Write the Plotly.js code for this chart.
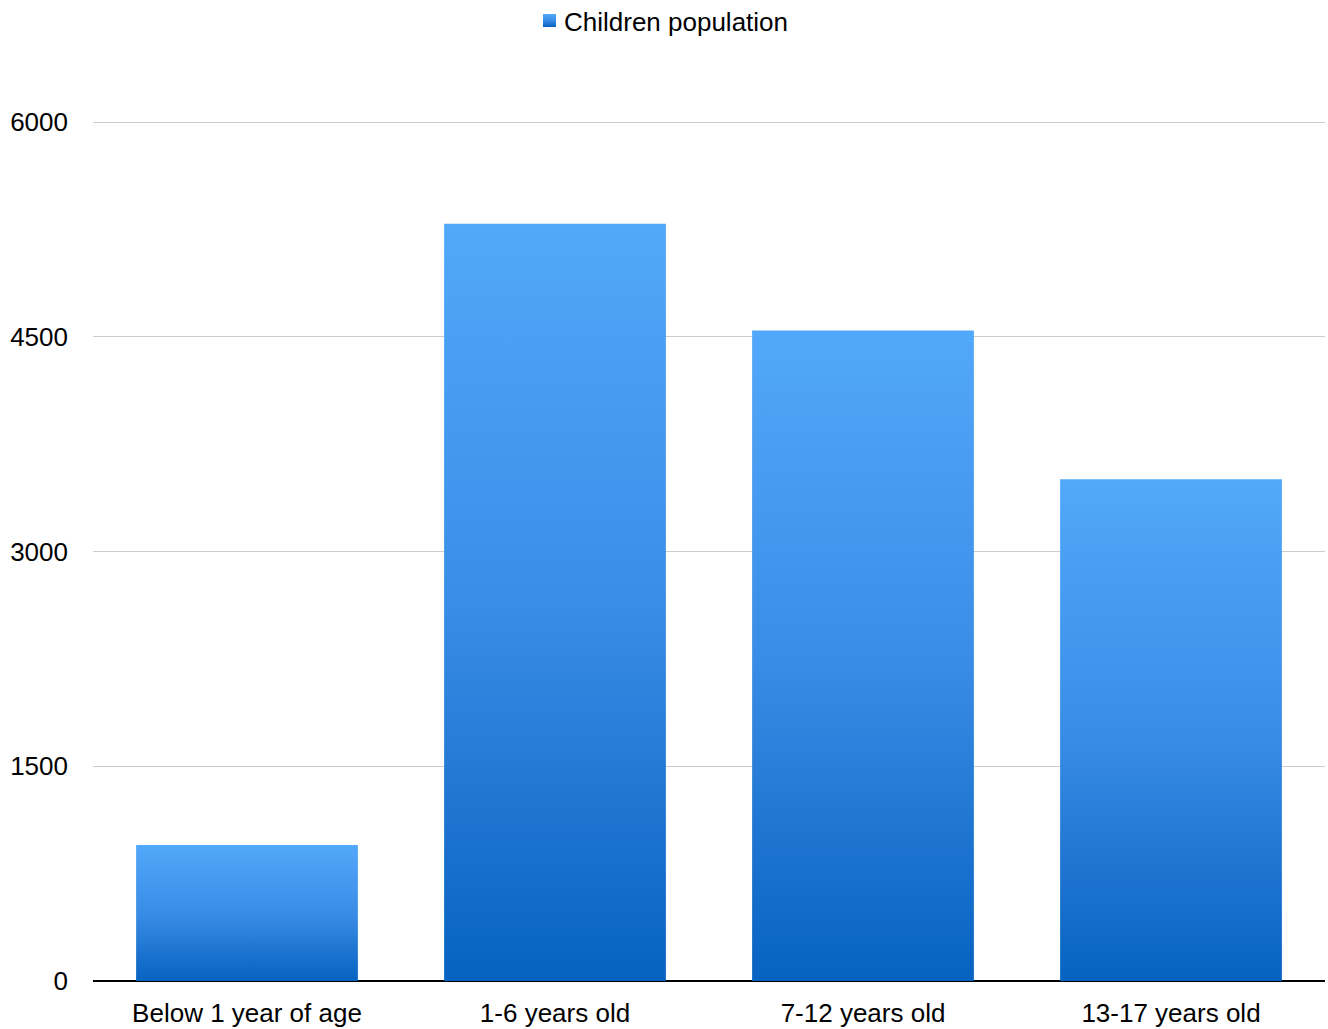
<!DOCTYPE html>
<html>
<head>
<meta charset="utf-8">
<script src="https://cdn.plot.ly/plotly-3.0.1.min.js"></script>
<style>
html,body{margin:0;padding:0;background:#fff;}
#chart{width:1328px;height:1029px;}
</style>
</head>
<body>
<div id="chart"></div>
<script>
const categories = ["Below 1 year of age", "1-6 years old", "7-12 years old", "13-17 years old"];
const childrenPopulation = [950, 5290, 4545, 3505];
const yTickValues = [0, 1500, 3000, 4500, 6000];
const seriesName = "Children population";

const trace = {
  type: "bar",
  x: categories,
  y: childrenPopulation,
  name: seriesName,
  showlegend: true,
  marker: {color: "#3a8ee8", line: {width: 0}},
  hoverinfo: "x+y"
};

const layout = {
  width: 1328,
  height: 1029,
  margin: {l: 93, r: 3, t: 121, b: 48},
  paper_bgcolor: "#ffffff",
  plot_bgcolor: "#ffffff",
  font: {family: "Liberation Sans, Arial, sans-serif", size: 26, color: "#000000"},
  bargap: 0.28,
  showlegend: true,
  legend: {
    orientation: "h",
    x: 0.4594, xanchor: "center",
    y: 0.9796, yanchor: "middle", yref: "container",
    font: {size: 26, color: "#000"},
    itemwidth: 30,
    tracegroupgap: 0
  },
  xaxis: {
    type: "category",
    showgrid: false,
    zeroline: false,
    showline: false,
    ticks: "",
    ticklabelstandoff: 14,
    tickfont: {size: 26, color: "#000"}
  },
  yaxis: {
    range: [0, 6008],
    tickvals: yTickValues,
    ticktext: yTickValues.map(String),
    showgrid: true,
    gridcolor: "#cccccc",
    gridwidth: 1,
    zeroline: true,
    zerolinecolor: "#000000",
    zerolinewidth: 2,
    showline: false,
    ticks: "",
    ticklabelstandoff: 24,
    tickfont: {size: 26, color: "#000"}
  }
};

Plotly.newPlot("chart", [trace], layout, {displayModeBar: false, staticPlot: true}).then(function(gd){
  const svgNS = "http://www.w3.org/2000/svg";
  const svg = gd.querySelector("svg.main-svg");
  let defs = svg.querySelector("defs");
  if (!defs) { defs = document.createElementNS(svgNS, "defs"); svg.insertBefore(defs, svg.firstChild); }
  const grad = document.createElementNS(svgNS, "linearGradient");
  grad.setAttribute("id", "barGrad");
  grad.setAttribute("x1", "0"); grad.setAttribute("y1", "0");
  grad.setAttribute("x2", "0"); grad.setAttribute("y2", "1");
  const stops = [["0", "#52a8fa"], ["0.5", "#3a8de6"], ["1", "#0762c0"]];
  stops.forEach(function(s){
    const st = document.createElementNS(svgNS, "stop");
    st.setAttribute("offset", s[0]);
    st.setAttribute("stop-color", s[1]);
    grad.appendChild(st);
  });
  defs.appendChild(grad);
  gd.querySelectorAll(".bars .point path").forEach(function(p){
    p.style.fill = "url(#barGrad)";
  });
  gd.querySelectorAll(".legend .legendpoints path").forEach(function(p){
    p.setAttribute("d", "M-1,-7h13v13h-13z");
    p.style.fill = "url(#barGrad)";
  });
});
</script>
</body>
</html>
